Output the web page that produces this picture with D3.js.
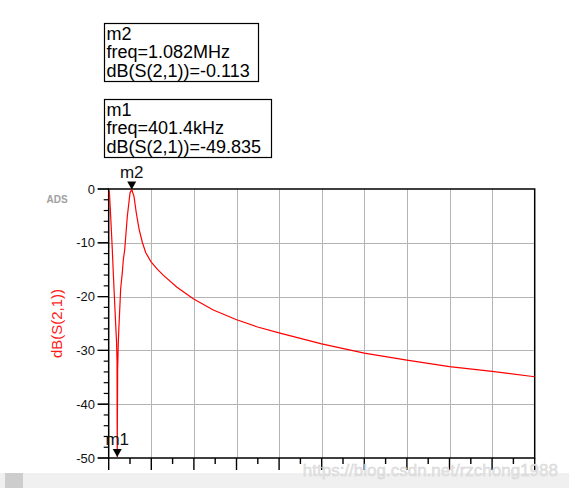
<!DOCTYPE html>
<html>
<head>
<meta charset="utf-8">
<script src="https://cdn.jsdelivr.net/npm/d3@7"></script>
<style>
  body { margin: 0; background: #fff; }
  svg { display: block; font-family: "Liberation Sans", Arial, sans-serif; }
</style>
</head>
<body>
<div id="chart"></div>
<script>
// sweep: frequency (MHz) and dB(S(2,1))
var freqMHz = [0.03, 0.094, 0.169, 0.216, 0.249, 0.329, 0.37, 0.39, 0.4014, 0.42, 0.45, 0.484, 0.563, 0.638, 0.685, 0.751, 0.873, 1.0, 1.082,
               1.188, 1.296, 1.423, 1.577, 1.737, 1.98, 2.28, 2.56, 3.19, 3.97, 4.91, 6.01, 6.95, 8.04, 10, 12, 14, 16, 18, 20];
var dbS21 =   [-0.4, -5.1, -11.3, -15.6, -18.5, -25.3, -28.6, -32.0, -49.835, -33.6, -28.6, -25.3, -18.5, -15.6, -13.2, -11.3, -5.1, -0.74, -0.113,
               -1.36, -4.46, -7.4, -9.9, -11.8, -13.5, -14.9, -16.0, -18.2, -20.4, -22.5, -24.3, -25.6, -26.8, -28.8, -30.5, -31.8, -33.0, -33.9, -34.9];
var yTickVals = [0, -10, -20, -30, -40, -50];
var markers = [
  { name: "m2", lines: ["m2", "freq=1.082MHz", "dB(S(2,1))=-0.113"], f: 1.082, db: -0.113 },
  { name: "m1", lines: ["m1", "freq=401.4kHz", "dB(S(2,1))=-49.835"], f: 0.4014, db: -49.835 }
];

var width = 569, height = 488;
var svg = d3.select("#chart").append("svg")
	.attr("width", width)
	.attr("height", height);

var x = d3.scaleLinear().domain([0, 20]).range([108.7, 534.7]);
var y = d3.scaleLinear().domain([-50, 0]).range([458, 189]);

// grid
var grid = svg.append("g").attr("stroke", "#b4b4b4").attr("stroke-width", 1).attr("shape-rendering", "crispEdges");
grid.selectAll(".vg").data(d3.range(2, 20, 2)).enter().append("line")
	.attr("x1", function(d){ return Math.round(x(d)) + 0.5; })
	.attr("x2", function(d){ return Math.round(x(d)) + 0.5; })
	.attr("y1", y(0)).attr("y2", y(-50));
grid.selectAll(".hg").data([-10, -20, -30, -40]).enter().append("line")
	.attr("x1", x(0)).attr("x2", x(20))
	.attr("y1", function(d){ return Math.round(y(d)) + 0.5; })
	.attr("y2", function(d){ return Math.round(y(d)) + 0.5; });

// frame
var frame = svg.append("g").attr("stroke", "#000").attr("stroke-width", 1.5).attr("fill", "none");
frame.append("rect").attr("x", x(0)).attr("y", y(0)).attr("width", x(20) - x(0)).attr("height", y(-50) - y(0));

// x ticks (no labels)
var xt = svg.append("g").attr("stroke", "#000").attr("stroke-width", 1.4);
xt.selectAll("line").data(d3.range(0, 21, 1)).enter().append("line")
	.attr("x1", function(d){ return x(d); }).attr("x2", function(d){ return x(d); })
	.attr("y1", y(-50))
	.attr("y2", function(d){ return y(-50) + (d % 2 === 0 ? 12 : 6); });

// y ticks
var yt = svg.append("g").attr("stroke", "#000").attr("stroke-width", 1.2);
yt.selectAll("line").data(d3.range(0, -51, -2).concat(yTickVals)).enter().append("line")
	.attr("y1", function(d){ return y(d); }).attr("y2", function(d){ return y(d); })
	.attr("x1", function(d){ return x(0) - (d % 10 === 0 ? 11 : 5); })
	.attr("x2", x(0));

svg.append("g").selectAll("text").data(yTickVals).enter().append("text")
	.attr("x", 95).attr("y", function(d){ return y(d); })
	.attr("dy", "0.35em")
	.attr("text-anchor", "end")
	.style("font-size", "13px")
	.style("fill", "#111")
	.text(function(d){ return d; });

// y label
svg.append("text")
	.attr("transform", "translate(62," + y(-25) + ") rotate(-90)")
	.attr("text-anchor", "middle")
	.style("font-size", "15px")
	.style("fill", "#ff1a1a")
	.text("dB(S(2,1))");

svg.append("text")
	.attr("x", 57).attr("y", 203)
	.attr("text-anchor", "middle")
	.style("font-size", "10px").style("font-weight", "bold")
	.style("fill", "#a0a0a0")
	.text("ADS");

// curve
var pts = freqMHz.map(function(f, i){ return [f, dbS21[i]]; });
var line = d3.line().x(function(d){ return x(d[0]); }).y(function(d){ return y(d[1]); });
svg.append("path").datum(pts)
	.attr("d", line)
	.attr("fill", "none")
	.attr("stroke", "#ff0000")
	.attr("stroke-width", 1.2);

// marker triangles and names
markers.forEach(function(m){
	var cx = x(m.f), ty = y(m.db);
	svg.append("path")
		.attr("d", "M" + (cx - 4.5) + "," + (ty - 8) + "L" + (cx + 4.5) + "," + (ty - 8) + "L" + cx + "," + ty + "Z")
		.attr("fill", "#000");
	svg.append("text")
		.attr("x", cx).attr("y", ty - 12)
		.attr("text-anchor", "middle")
		.style("font-size", "17px")
		.style("fill", "#111")
		.text(m.name);
});

// marker readout boxes
var boxTop = [23.5, 99.5], boxW = [154, 167];
markers.forEach(function(m, i){
	var g = svg.append("g").attr("transform", "translate(104.5," + boxTop[i] + ")");
	g.append("rect").attr("width", boxW[i]).attr("height", 58)
		.attr("fill", "#fff").attr("stroke", "#000").attr("stroke-width", 1.2);
	g.selectAll("text").data(m.lines).enter().append("text")
		.attr("x", 2).attr("y", function(d, j){ return 16 + j * 18.5; })
		.style("font-size", "18px")
		.style("fill", "#000")
		.text(function(d){ return d; });
});

// bottom bar + watermark
svg.append("rect").attr("x", 0).attr("y", 473).attr("width", width).attr("height", 15).attr("fill", "#f0f0f0");
svg.append("rect").attr("x", 5).attr("y", 473).attr("width", 18).attr("height", 15).attr("fill", "#cdcdcd");
svg.append("text")
	.attr("x", 558).attr("y", 476)
	.attr("text-anchor", "end")
	.style("font-size", "17px")
	.style("fill", "#e6e6e6")
	.style("stroke", "#d0d0d0").style("stroke-width", 0.4)
	.text("https://blog.csdn.net/rzchong1988");
</script>
</body>
</html>
